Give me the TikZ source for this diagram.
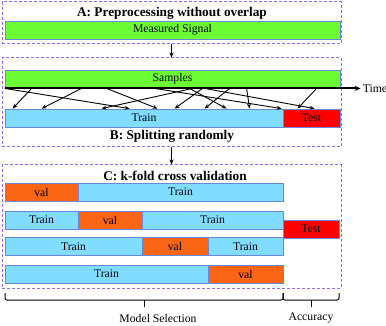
\documentclass[tikz,border=0pt]{standalone}
\usepackage{fontspec}
\setmainfont{Liberation Serif}
\usetikzlibrary{arrows.meta}
\definecolor{gfill}{HTML}{6CFC33}
\definecolor{bfill}{HTML}{80DDFF}
\definecolor{ofill}{HTML}{F96415}
\definecolor{rfill}{HTML}{FF0000}
\definecolor{edge}{HTML}{6688DD}
\definecolor{dashc}{HTML}{9966FF}
\tikzset{
  bar/.style={draw=edge, line width=0.8pt, rectangle, inner sep=0pt, minimum height=18pt, font=\fontsize{11.7}{12}\selectfont},
  gbar/.style={bar, fill=gfill},
  tbar/.style={bar, fill=bfill},
  vbar/.style={bar, fill=ofill},
  rbar/.style={bar, fill=rfill, draw=edge},
  dbox/.style={draw=dashc, dashed, line width=1pt, dash pattern=on 3pt off 2pt, rectangle, inner sep=0pt},
  ttl/.style={font=\bfseries\fontsize{13.3}{14}\selectfont, inner sep=0pt},
  lbl/.style={font=\fontsize{11.7}{12}\selectfont, inner sep=0pt},
  conn/.style={-{Stealth[length=5pt,width=4pt]}, line width=1pt},
  sarr/.style={-{Stealth[length=5pt,width=4pt]}, line width=0.9pt},
  brace/.style={line width=1pt, rounded corners=2pt},
}
\begin{document}
\begin{tikzpicture}[x=1pt,y=-1pt]
\useasboundingbox (0,0) rectangle (386,326);
% dashed boxes
\node[dbox, minimum width=339pt, minimum height=42pt] (boxA) at (171.5,23) {};
\node[dbox, minimum width=339pt, minimum height=89pt] (boxB) at (171.5,102.5) {};
\node[dbox, minimum width=339pt, minimum height=123pt] (boxC) at (171.5,226.5) {};
% titles
\node[ttl] (tA) at (172,13) {A: Preprocessing without overlap};
\node[ttl] (tB) at (172,136) {B: Splitting randomly};
\node[ttl] (tC) at (175,176) {C: k-fold cross validation};
% A
\node[gbar, minimum width=335pt] (meas) at (172.5,30) {Measured Signal};
% B
\node[gbar, minimum width=335pt] (samp) at (172.5,79) {Samples};
\node[tbar, minimum width=278pt] (train) at (144,118) {Train};
\node[rbar, minimum width=57pt] (test) at (311.5,118) {Test};
% time axis
\draw[line width=1.8pt, -{Stealth[length=6pt,width=5pt]}] (samp.south west) -- ++(356,0) coordinate (tend);
\node[lbl, anchor=west] (time) at ([xshift=2pt]tend) {Time};
% random arrows
\foreach \s/\t in {27/8, 77/37, 0/125, 102/153, 188/97, 198/170, 225/200, 185/222, 242/245, 312/293, 200/310, 150/277}{
  \draw[sarr] ([xshift=\s pt]samp.south west) -- ([xshift=\t pt]train.north west);
}
% between boxes
\draw[conn] (boxA.south) -- (boxB.north);
\draw[conn] (boxB.south) -- (boxC.north);
% C rows
\node[vbar, minimum width=73pt] (r1a) at (41.5,192) {val};
\node[tbar, minimum width=205pt] (r1b) at (180.5,192) {Train};
\node[tbar, minimum width=73pt] (r2a) at (41.5,220) {Train};
\node[vbar, minimum width=64pt] (r2b) at (110,220) {val};
\node[tbar, minimum width=141pt] (r2c) at (212.5,220) {Train};
\node[tbar, minimum width=137pt] (r3a) at (73.5,246.5) {Train};
\node[vbar, minimum width=66pt] (r3b) at (175,246.5) {val};
\node[tbar, minimum width=75pt] (r3c) at (245.5,246.5) {Train};
\node[tbar, minimum width=203pt] (r4a) at (106.5,274) {Train};
\node[vbar, minimum width=75pt] (r4b) at (245.5,274) {val};
\node[rbar, minimum width=56pt] (testC) at (311,229) {Test};
% braces
\draw[brace] (5,293) -- (5,300) -- (283,300) -- (283,293);
\draw[line width=1pt] (144,300) -- (144,307);
\draw[brace] (283,293) -- (283,300) -- (339,300) -- (339,293);
\draw[line width=1pt] (311,300) -- (311,307);
\node[lbl] (ms) at (158,318) {Model Selection};
\node[lbl] (acc) at (311,318) {Accuracy};
\end{tikzpicture}
\end{document}
